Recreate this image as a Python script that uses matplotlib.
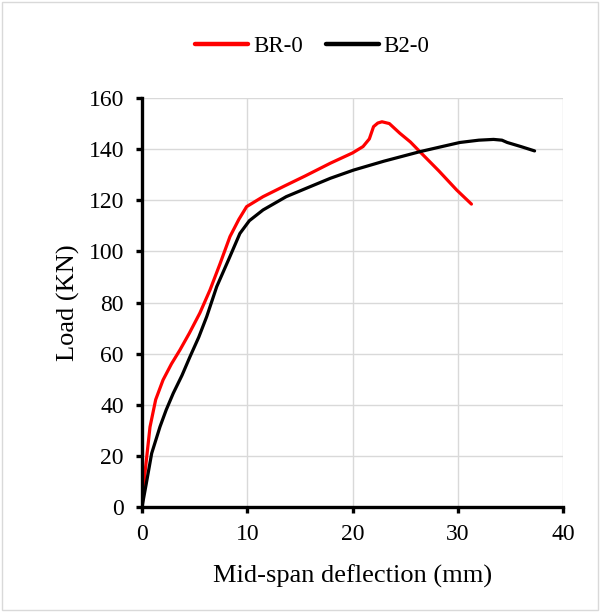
import matplotlib
matplotlib.use("Agg")
import matplotlib.pyplot as plt
from matplotlib.patches import Rectangle

plt.rcParams['font.family'] = ['Liberation Serif', 'DejaVu Serif']

br0_x = [0, 0.3, 0.76, 1.3, 2.0, 2.8, 3.6, 4.5, 5.5, 6.46, 7.4, 8.36, 9.2, 9.94, 11.5, 13.5, 15.5, 17.9, 20.0, 21.0, 21.6, 22.0, 22.4, 22.8, 23.5, 24.5, 25.5, 26.4, 28.2, 29.9, 31.3]
br0_y = [0, 14, 31.3, 42, 49.7, 56, 61.4, 68, 75.9, 84.9, 95, 105.8, 112.5, 117.5, 121.4, 125.5, 129.5, 134.5, 138.5, 141, 144, 148.8, 150.2, 150.7, 150, 146.2, 142.8, 139, 131.5, 124, 118.5]

b20_x = [0, 0.4, 0.92, 1.71, 2.3, 2.97, 3.8, 4.56, 5.4, 6.15, 7.1, 8.2, 9.3, 10.2, 11.5, 13.7, 15.5, 17.9, 20.1, 23.0, 26.4, 28.5, 30.2, 32.0, 33.4, 34.2, 34.7, 36.0, 37.3]
b20_y = [0, 9, 21, 31.4, 38, 44.5, 51.5, 58.8, 66.5, 74.5, 86.2, 96.5, 107, 112, 116.2, 121.4, 124.5, 128.6, 131.8, 135.3, 139, 141, 142.6, 143.5, 143.8, 143.5, 142.6, 141, 139.3]

x_ticks = [0, 10, 20, 30, 40]
y_ticks = [0, 20, 40, 60, 80, 100, 120, 140, 160]

fig = plt.figure(figsize=(6.0, 6.12), dpi=100)
ax = fig.add_axes([142/600, 1-507/612, (563-142)/600, (507-98)/612])

ax.plot(br0_x, br0_y, color='#ff0000', lw=2.3, label='BR-0', solid_capstyle='round', solid_joinstyle='round', zorder=3)
ax.plot(b20_x, b20_y, color='#000000', lw=2.3, label='B2-0', solid_capstyle='round', solid_joinstyle='round', zorder=3)

ax.set_xlim(0, 40)
ax.set_ylim(0, 160)
ax.set_xticks(x_ticks)
ax.set_yticks(y_ticks)
ax.grid(True, color='#d9d9d9', lw=1.0, zorder=0)
ax.set_axisbelow(True)
for s in ['top', 'right']:
    ax.spines[s].set_visible(False)
for s in ['left', 'bottom']:
    ax.spines[s].set_linewidth(2.4)
    ax.spines[s].set_color('black')
    ax.spines[s].set_zorder(4)
ax.tick_params(axis='both', direction='out', length=4, width=2.4, labelsize=17, colors='black')
ax.tick_params(axis='y', pad=9)
ax.tick_params(axis='x', pad=8)

ax.set_xlabel('Mid-span deflection (mm)', fontsize=19, labelpad=14)
ax.set_ylabel('Load (KN)', fontsize=19, labelpad=6)

leg = fig.legend(loc='center', bbox_to_anchor=(312.5/600, 1-46/612), ncol=2, frameon=False,
                 fontsize=16.5, handlelength=2.3, columnspacing=1.0, handletextpad=0.22,
                 borderpad=0, borderaxespad=0)
for h in leg.legend_handles:
    h.set_linewidth(3.2)

fig.patches.append(Rectangle((0.004, 0.004), 0.992, 0.992, transform=fig.transFigure,
                             fill=False, edgecolor='#d9d9d9', lw=1.0))

fig.savefig('out.png', dpi=100)
